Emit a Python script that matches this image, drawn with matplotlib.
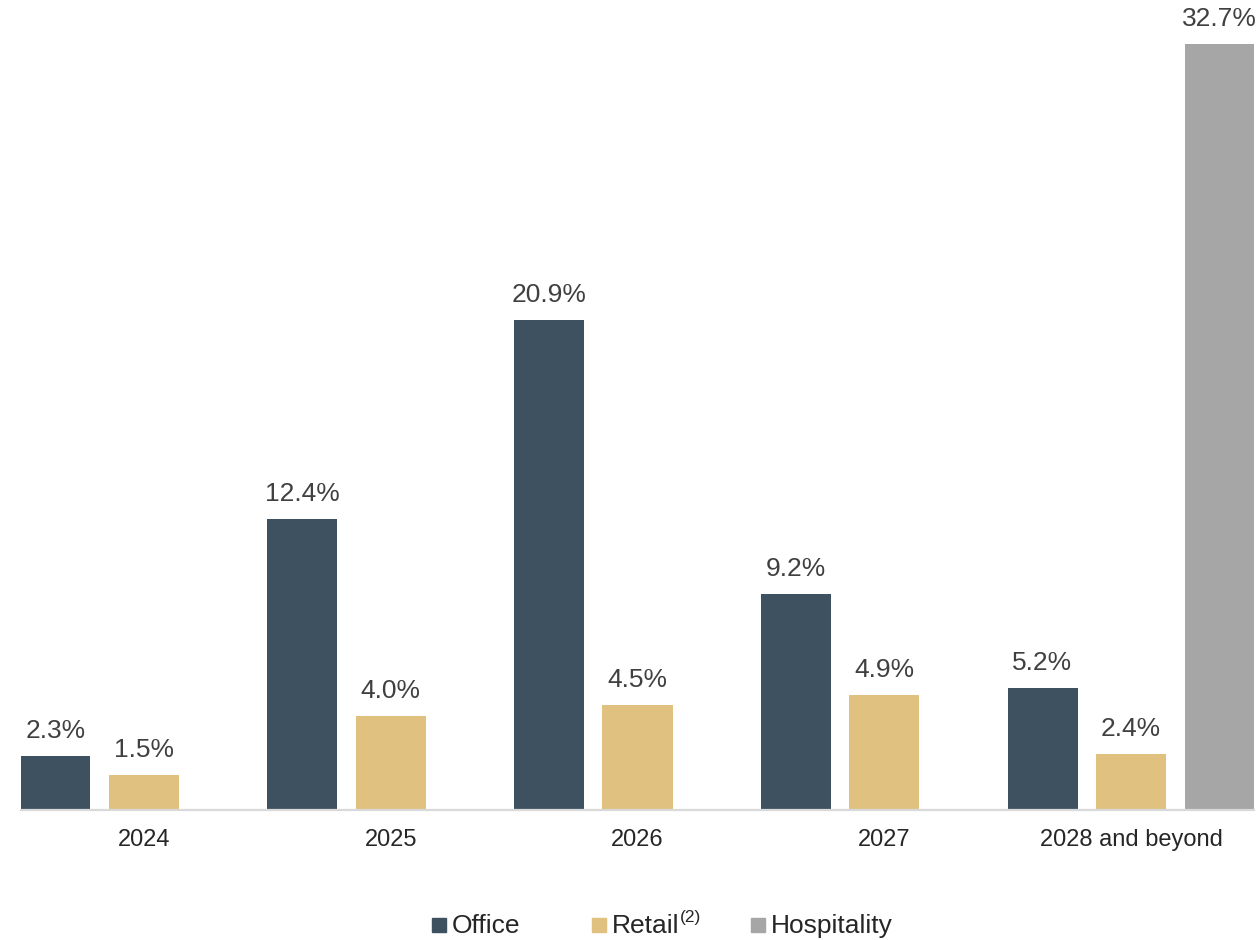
import numpy as np
import matplotlib.pyplot as plt

plt.rcParams['font.family'] = ['Liberation Sans', 'DejaVu Sans']

years = ["2024", "2025", "2026", "2027", "2028 and beyond"]
office = [2.3, 12.4, 20.9, 9.2, 5.2]
retail = [1.5, 4.0, 4.5, 4.9, 2.4]
hospitality = [None, None, None, None, 32.7]

series_names = ["Office", "Retail", "Hospitality"]
colors = ["#3D5160", "#E0C17F", "#A6A6A6"]
text_color = "#404040"

W, H = 1258, 940


def main():
    fig = plt.figure(figsize=(W / 100, H / 100), dpi=100)
    ax = fig.add_axes([20.6 / W, 130 / H, (1254.4 - 20.6) / W, 810 / H])

    x = np.arange(len(years))
    step = 0.3587
    width = 0.2837

    for i, (vals, col) in enumerate(zip([office, retail, hospitality], colors)):
        xs = [xi + (i - 1) * step for xi, v in zip(x, vals) if v is not None]
        vs = [v for v in vals if v is not None]
        bars = ax.bar(xs, vs, width=width, color=col, zorder=2)
        for b, v in zip(bars, vs):
            ax.annotate(f"{v:.1f}%", (b.get_x() + b.get_width() / 2, v),
                        xytext=(0, 18), textcoords="offset pixels",
                        ha="center", va="baseline", fontsize=19,
                        color=text_color, annotation_clip=False)

    ax.set_xlim(-0.5, len(years) - 0.5)
    ax.set_ylim(0, 810 / 23.44)
    ax.set_xticks(x)
    ax.set_xticklabels(years, fontsize=17, color="#262626")
    ax.tick_params(axis="x", length=0, pad=13.5)
    ax.set_yticks([])
    for s in ["top", "left", "right"]:
        ax.spines[s].set_visible(False)
    ax.spines["bottom"].set_color("#D9D9D9")
    ax.spines["bottom"].set_linewidth(1.6)

    # legend drawn by hand with evenly spaced entries
    legend_x = [432, 592, 751]
    for lx, name, col in zip(legend_x, series_names, colors):
        fig.patches.append(plt.Rectangle((lx / W, 1 - 932 / H), 14 / W, 14 / H,
                                         transform=fig.transFigure, color=col))
        t = fig.text((lx + 20) / W, 1 - 933 / H, name, fontsize=19,
                     color="#262626", va="baseline", ha="left")
        if name == "Retail":
            fig.canvas.draw()
            ext = t.get_window_extent()
            fig.text((ext.x1 + 0.5) / W, 1 - 922 / H, "(2)", fontsize=12.5,
                     color="#262626", va="baseline", ha="left")

    fig.savefig("out.png", dpi=100)


if __name__ == "__main__":
    main()
